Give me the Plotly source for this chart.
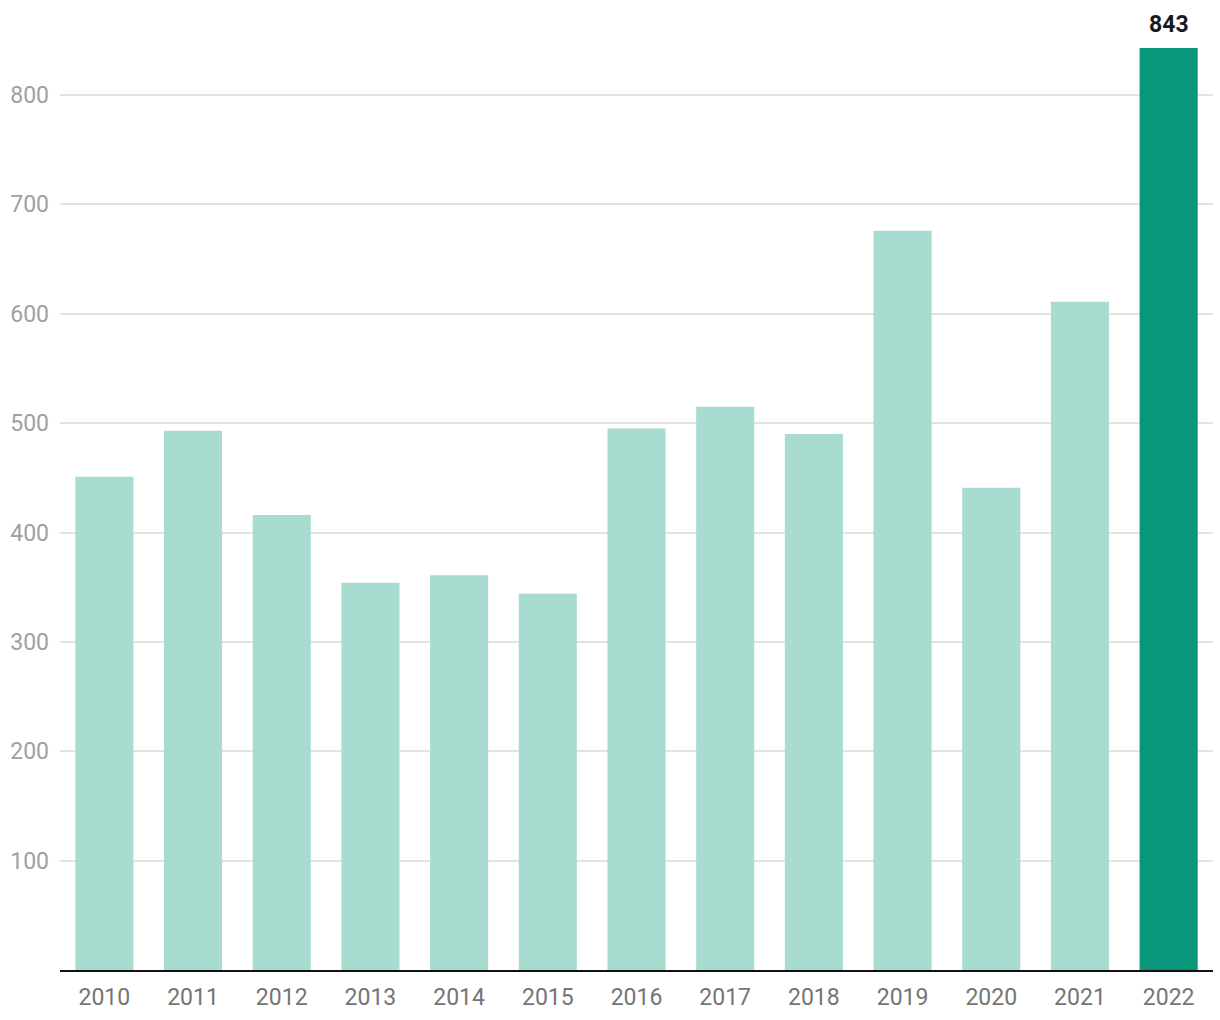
import plotly.graph_objects as go

years = ["2010", "2011", "2012", "2013", "2014", "2015", "2016", "2017", "2018", "2019", "2020", "2021", "2022"]
values = [451, 493, 416, 354, 361, 344, 495, 515, 490, 676, 441, 611, 843]
highlight_year = "2022"
y_ticks = [100, 200, 300, 400, 500, 600, 700, 800]

colors = ["#0a967a" if y == highlight_year else "#a9dcd1" for y in years]
hi = years.index(highlight_year)

fig = go.Figure(go.Bar(x=years, y=values, marker=dict(color=colors, line=dict(width=0)),
                       hoverinfo="x+y"))

fig.add_annotation(x=hi, y=values[hi], text="<b>%d</b>" % values[hi],
                   showarrow=False, yanchor="bottom", yshift=8,
                   font=dict(family="Roboto", size=23, color="#1a1a1a"))

fig.update_layout(
    width=1220, height=1020,
    margin=dict(l=60, r=7, t=48, b=50),
    plot_bgcolor="white", paper_bgcolor="white",
    bargap=0.345,
    showlegend=False,
    font=dict(family="Roboto"),
)
fig.update_xaxes(type="category", range=[-0.5, len(years) - 0.5], showgrid=False,
                 showline=True, linecolor="#111111", linewidth=2,
                 ticks="", tickfont=dict(size=23, color="#757575"), ticklabelstandoff=5)
fig.update_yaxes(range=[0, 843], tickvals=y_ticks, showgrid=True, gridcolor="#e3e3e3", gridwidth=1.5,
                 zeroline=False, tickfont=dict(size=23, color="#a0a0a0"), ticks="",
                 ticklabelstandoff=10)

fig.write_html("out.html")
